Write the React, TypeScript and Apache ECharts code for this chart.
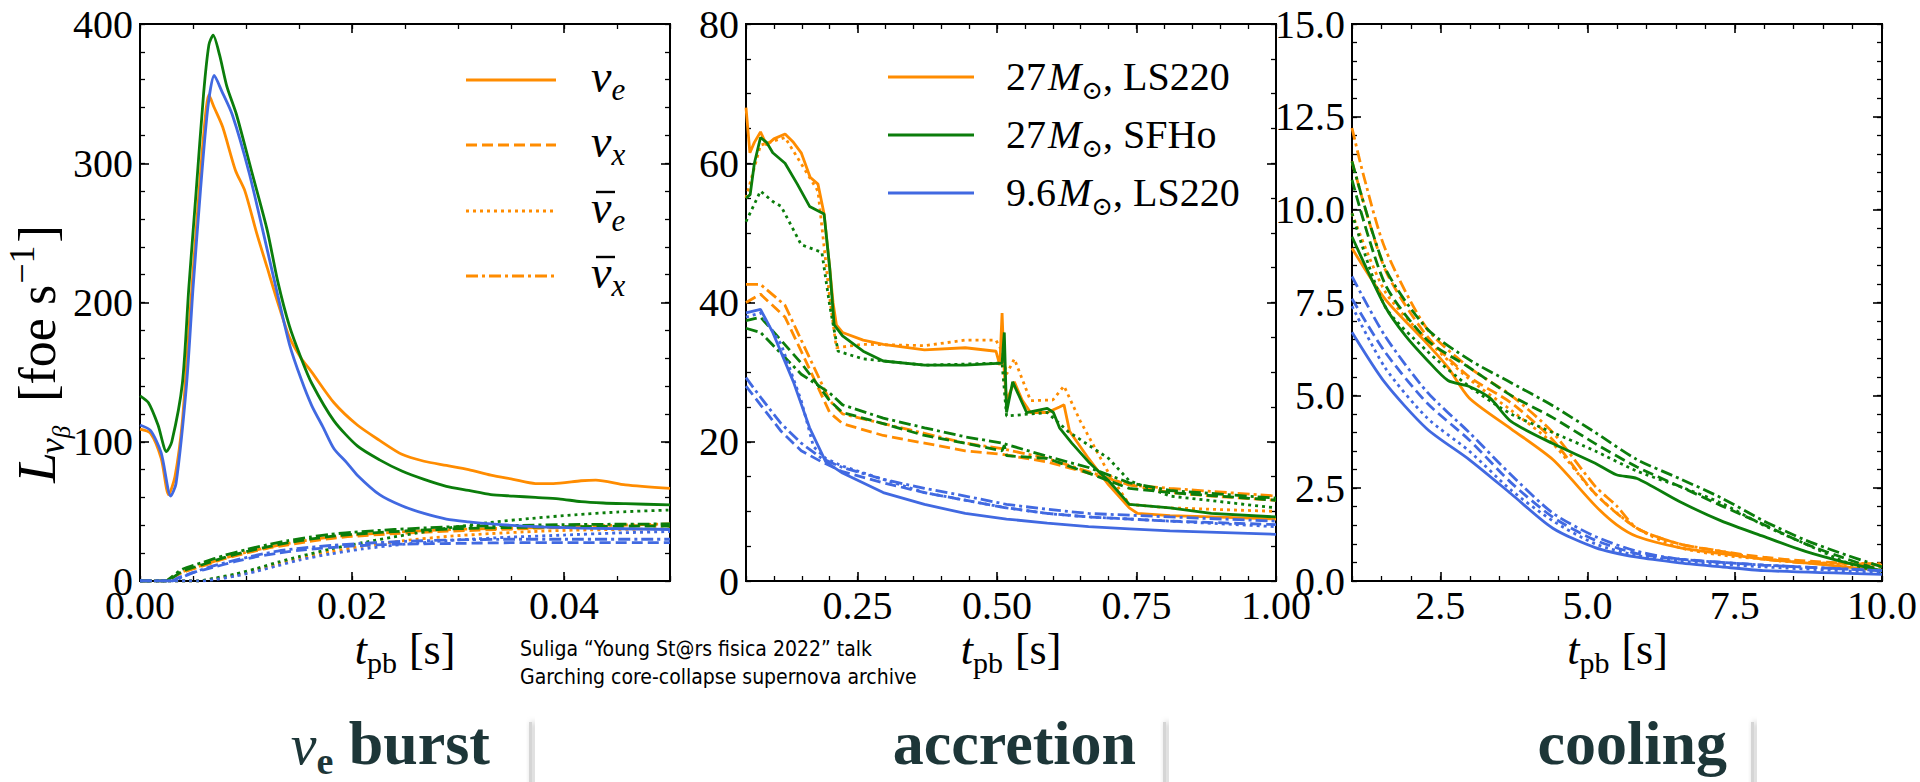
import React, { useEffect, useRef } from 'react';
import * as echarts from 'echarts';

// ---------- tick labels ----------
const burstXTicks = [0, 0.02, 0.04];
const burstYTicks = [0, 100, 200, 300, 400];
const accXTicks = [0.25, 0.5, 0.75, 1.0];
const accYTicks = [0, 20, 40, 60, 80];
const coolXTicks = [2.5, 5.0, 7.5, 10.0];
const coolYTicks = [0, 2.5, 5, 7.5, 10, 12.5, 15];

// ---------- legend entries ----------
const flavourSubs = ['e', 'x', 'e', 'x'];
const flavourBarred = [false, false, true, true];
const modelMasses = ['27', '27', '9.6'];
const modelEos = [', LS220', ', SFHo', ', LS220'];

// ---------- burst phase: t_pb [s], L [foe/s] ----------
const burstLs27Nue = [[0,109],[0.001,106],[0.002,88],[0.0027,62],[0.0033,75],[0.004,115],[0.0047,190],[0.0053,252],[0.006,320],[0.0065,349],[0.007,340],[0.0078,326],[0.009,295],[0.0099,280],[0.011,250],[0.012,225],[0.013,200],[0.0141,175],[0.0152,160],[0.0162,150],[0.0183,128],[0.0205,112],[0.0226,101],[0.0247,91],[0.0268,86],[0.0289,83],[0.031,80],[0.0331,76],[0.0352,73],[0.0373,70],[0.039,70],[0.0416,72],[0.043,72.5],[0.0458,69],[0.05,66.5]];
const burstLs27Nux = [[0,0],[0.0024,0],[0.003,2],[0.004,6],[0.006,11],[0.008,16],[0.01,20],[0.012,23.5],[0.014,26],[0.016,28.5],[0.018,30.5],[0.02,32],[0.024,34],[0.028,35.5],[0.032,36.5],[0.036,37.5],[0.04,38.5],[0.045,39.5],[0.05,40]];
const burstLs27Anue = [[0,0],[0.0055,0],[0.007,1.5],[0.009,4],[0.011,8],[0.013,12],[0.015,16],[0.018,21],[0.021,25],[0.025,29],[0.029,32],[0.033,34],[0.037,35.5],[0.041,36.5],[0.05,37.5]];
const burstLs27Anux = [[0,0],[0.0024,0],[0.003,2.5],[0.004,6.5],[0.006,11.5],[0.008,16.5],[0.01,20.5],[0.012,24],[0.014,27],[0.016,29.5],[0.018,31.5],[0.02,33],[0.024,35],[0.028,36.5],[0.032,37.5],[0.036,38],[0.04,39],[0.045,40],[0.05,41]];

const burstSfho27Nue = [[0,133],[0.0008,128],[0.0017,112],[0.0025,93],[0.003,100],[0.004,142],[0.0046,210],[0.0053,280],[0.006,350],[0.0065,385],[0.0069,392],[0.0075,378],[0.0082,355],[0.0091,335],[0.0105,295],[0.012,252],[0.013,215],[0.0141,183],[0.0152,160],[0.0162,142],[0.0183,115],[0.0205,97],[0.0226,87],[0.0247,79],[0.0268,73],[0.0289,68],[0.031,65],[0.0331,62],[0.0352,61],[0.0373,60],[0.0395,59],[0.0416,57],[0.0437,56],[0.0458,55.5],[0.05,54.7]];
const burstSfho27Nux = [[0,0],[0.0024,0],[0.003,2],[0.004,7],[0.006,12],[0.008,17],[0.01,21],[0.012,24.5],[0.014,27.5],[0.016,30],[0.018,32],[0.02,33.5],[0.024,35.5],[0.028,37],[0.032,38],[0.036,38.5],[0.04,39],[0.05,39.5]];
const burstSfho27Anue = [[0,0],[0.0055,0],[0.007,2],[0.009,5],[0.011,9],[0.013,13.5],[0.015,17.5],[0.018,23],[0.021,27.5],[0.025,33],[0.029,38],[0.033,42],[0.037,45],[0.041,47.5],[0.045,49.5],[0.05,51]];
const burstSfho27Anux = [[0,0],[0.0024,0],[0.003,3],[0.004,8.5],[0.006,13.5],[0.008,18.5],[0.01,22.5],[0.012,26],[0.014,29],[0.016,31.5],[0.018,33.5],[0.02,35],[0.024,37],[0.028,38.5],[0.032,39.5],[0.036,40],[0.04,40.5],[0.05,41]];

const burstLs96Nue = [[0,112],[0.001,108],[0.002,92],[0.0029,61],[0.0034,70],[0.0044,142],[0.005,210],[0.0057,280],[0.0064,340],[0.007,363],[0.0077,352],[0.0087,335],[0.0103,293],[0.012,238],[0.013,205],[0.0141,170],[0.0152,145],[0.0162,126],[0.0173,110],[0.0183,95],[0.0195,85],[0.0205,76],[0.0226,62],[0.0247,54],[0.0268,48.5],[0.0289,44.5],[0.031,42.5],[0.0331,41],[0.0373,39],[0.0416,38],[0.05,37]];
const burstLs96Nux = [[0,0],[0.003,0],[0.0035,2],[0.005,6],[0.007,10],[0.009,14],[0.011,17.5],[0.013,20],[0.015,22],[0.018,24],[0.021,25.5],[0.025,26.5],[0.03,27],[0.035,27.5],[0.04,27.5],[0.05,27.5]];
const burstLs96Anue = [[0,0],[0.0055,0],[0.007,1],[0.009,3.5],[0.011,7],[0.013,11],[0.015,15],[0.018,19.5],[0.021,23],[0.025,26.5],[0.03,29.5],[0.035,31.5],[0.04,33],[0.045,34.5],[0.05,35.5]];
const burstLs96Anux = [[0,0],[0.003,0],[0.0035,1],[0.005,6],[0.007,11],[0.009,15],[0.011,18.5],[0.013,21.5],[0.015,23.5],[0.018,25.5],[0.021,27],[0.025,28.5],[0.03,29.5],[0.035,30],[0.04,30],[0.05,30]];

// ---------- accretion phase ----------
const accLs27Nue = [[0.05,68],[0.057,61.5],[0.065,63],[0.076,64.5],[0.087,62.6],[0.1,63.5],[0.12,64.2],[0.135,63],[0.149,61.5],[0.165,58],[0.179,57],[0.19,52.7],[0.2,45],[0.206,40],[0.212,36.8],[0.223,35.7],[0.26,34.6],[0.296,34],[0.37,33.2],[0.443,33.5],[0.498,33],[0.505,31],[0.509,38.5],[0.513,30],[0.517,25.9],[0.531,28.6],[0.545,26],[0.56,24.2],[0.59,24.2],[0.612,25],[0.62,25.3],[0.63,21.5],[0.664,17.6],[0.7,13.8],[0.737,10.5],[0.752,9.7],[0.81,9.4],[0.884,9.2],[1.0,8.9]];
const accLs27Nux = [[0.05,40],[0.076,41.2],[0.12,37.9],[0.149,33],[0.2,24.2],[0.223,22.6],[0.296,20.9],[0.37,19.8],[0.443,18.7],[0.509,18.2],[0.59,17.1],[0.664,15.5],[0.737,13.8],[0.81,12.7],[0.884,12.2],[1.0,11.6]];
const accLs27Anue = [[0.05,55],[0.076,62.6],[0.12,63.7],[0.179,56],[0.2,40.7],[0.212,33.5],[0.26,34],[0.37,33.8],[0.443,34.6],[0.498,34.6],[0.509,33],[0.517,29.7],[0.531,31.9],[0.56,25.9],[0.6,26],[0.62,28],[0.649,23],[0.7,15.5],[0.737,11],[0.81,10.5],[1.0,10]];
const accLs27Anux = [[0.05,42.6],[0.076,42.6],[0.12,39.6],[0.149,34.6],[0.2,25.9],[0.223,24],[0.296,22.6],[0.37,21.2],[0.443,19.8],[0.509,19],[0.59,17.6],[0.664,15.7],[0.737,13.8],[0.81,13.3],[1.0,12.2]];

const accSfho27Nue = [[0.05,55],[0.0575,55.5],[0.065,60],[0.076,63.7],[0.087,63],[0.098,61.5],[0.12,60],[0.142,57],[0.164,53.8],[0.19,52.7],[0.2,45],[0.208,36.8],[0.223,35.2],[0.26,33],[0.296,31.6],[0.37,31],[0.443,31],[0.509,31.3],[0.513,35.7],[0.517,24.2],[0.528,28.6],[0.553,24.2],[0.59,24.8],[0.601,24.2],[0.612,22],[0.634,19.8],[0.664,17.1],[0.7,14.4],[0.737,11],[0.81,10.5],[0.884,9.7],[1.0,9.2]];
const accSfho27Nux = [[0.05,37.4],[0.076,37.9],[0.149,31.3],[0.2,25.9],[0.223,24.2],[0.296,22.6],[0.37,20.9],[0.443,19.8],[0.509,18.7],[0.513,19.5],[0.517,18],[0.59,17.6],[0.664,15.5],[0.737,13.3],[0.81,12.7],[1.0,11.6]];
const accSfho27Anue = [[0.05,51.6],[0.076,56],[0.098,54.5],[0.113,53.8],[0.149,48.3],[0.186,47.2],[0.2,39.6],[0.215,33],[0.26,31.9],[0.37,31],[0.509,31.3],[0.517,23.7],[0.59,24.2],[0.627,21.5],[0.7,17.6],[0.737,14.4],[0.81,12.2],[1.0,10.5]];
const accSfho27Anux = [[0.05,36.3],[0.076,35.7],[0.149,29.7],[0.2,27],[0.223,25.3],[0.296,23.4],[0.37,22],[0.443,20.7],[0.509,19.8],[0.59,17.9],[0.664,16.3],[0.737,14.1],[0.81,13],[1.0,11.9]];

const accLs96Nue = [[0.05,38.5],[0.076,39],[0.098,35.7],[0.135,28.6],[0.164,22],[0.193,17.1],[0.223,15.5],[0.296,12.7],[0.37,11],[0.443,9.7],[0.517,8.9],[0.59,8.3],[0.664,7.8],[0.737,7.5],[0.81,7.2],[1.0,6.7]];
const accLs96Nux = [[0.05,28],[0.076,25.3],[0.113,21.5],[0.149,18.7],[0.186,17.1],[0.223,15.7],[0.296,14.1],[0.37,12.7],[0.443,11.6],[0.517,10.5],[0.59,9.7],[0.664,9.2],[0.81,8.6],[1.0,8.1]];
const accLs96Anue = [[0.05,37.9],[0.076,38.5],[0.113,34],[0.149,25.9],[0.171,19.3],[0.193,17.6],[0.223,16.5],[0.296,14.6],[0.37,12.7],[0.443,11.6],[0.517,10.5],[0.59,9.7],[0.664,9.2],[0.737,8.9],[0.81,8.6],[1.0,7.8]];
const accLs96Anux = [[0.05,29.2],[0.076,26.4],[0.113,22.6],[0.149,19.8],[0.186,17.6],[0.223,16.3],[0.296,14.6],[0.37,13.3],[0.443,12.2],[0.517,11],[0.59,10.3],[0.664,9.7],[0.81,9.2],[1.0,8.6]];

// ---------- cooling phase ----------
const coolLs27Nue = [[1,8.96],[1.56,7.6],[2.27,6.4],[2.63,5.75],[2.99,4.93],[3.7,4.1],[4.41,3.27],[5.13,2.03],[5.49,1.52],[5.84,1.2],[6.56,0.9],[7.27,0.74],[7.99,0.59],[8.7,0.49],[10,0.28]];
const coolLs27Nux = [[1,11.3],[1.56,8.4],[2.27,6.6],[2.99,5.5],[3.7,4.8],[4.41,3.8],[5.13,2.35],[5.84,1.42],[6.56,1.0],[7.27,0.8],[7.99,0.64],[8.7,0.54],[10,0.43]];
const coolLs27Anue = [[1,9.9],[1.56,7.8],[2.27,6.5],[2.99,5.44],[3.7,4.6],[4.41,3.7],[5.13,2.35],[5.84,1.42],[6.56,0.9],[7.27,0.7],[7.99,0.59],[10,0.38]];
const coolLs27Anux = [[1,12.2],[1.2,10.9],[1.56,8.96],[2.27,6.8],[2.99,5.75],[3.7,5.0],[4.41,4.0],[5.13,2.55],[5.49,2.03],[5.84,1.42],[6.56,1.0],[7.27,0.8],[7.99,0.59],[8.7,0.49],[10,0.47]];

const coolSfho27Nue = [[1,9.27],[1.56,7.4],[1.91,6.6],[2.27,5.96],[2.63,5.4],[2.99,5.24],[3.34,4.93],[3.7,4.3],[4.41,3.7],[5.13,3.17],[5.49,2.86],[5.84,2.76],[6.56,2.14],[7.27,1.62],[7.99,1.2],[8.7,0.8],[9.41,0.49],[10,0.28]];
const coolSfho27Nux = [[1,10.8],[1.56,8.0],[2.27,6.5],[2.99,5.75],[3.7,5.0],[4.41,4.4],[5.13,3.7],[5.84,3.07],[6.56,2.55],[7.27,2.03],[7.99,1.52],[8.7,1.0],[9.41,0.59],[10,0.28]];
const coolSfho27Anue = [[1,9.9],[1.56,7.4],[2.27,6.2],[2.99,5.24],[3.7,4.5],[4.41,4.0],[5.13,3.5],[5.84,2.96],[6.56,2.55],[7.27,2.1],[7.99,1.5],[8.7,1.0],[9.41,0.49],[10,0.23]];
const coolSfho27Anux = [[1,11.3],[1.56,8.44],[2.27,6.8],[2.99,5.96],[3.7,5.34],[4.41,4.72],[5.13,4.0],[5.84,3.27],[6.56,2.76],[7.27,2.24],[7.99,1.62],[8.7,1.1],[9.41,0.69],[10,0.38]];

const coolLs96Nue = [[1,6.7],[1.56,5.34],[2.27,4.1],[2.99,3.27],[3.7,2.35],[4.41,1.42],[5.13,0.9],[5.84,0.64],[6.56,0.49],[7.27,0.38],[7.99,0.28],[10,0.18]];
const coolLs96Nux = [[1,7.6],[1.56,6.17],[2.27,4.8],[2.99,3.8],[3.7,2.65],[4.41,1.72],[5.13,1.1],[5.84,0.74],[6.56,0.59],[7.99,0.43],[10,0.28]];
const coolLs96Anue = [[1,7.4],[1.56,5.75],[2.27,4.4],[2.99,3.5],[3.7,2.45],[4.41,1.62],[5.13,1.0],[5.84,0.69],[6.56,0.54],[7.99,0.38],[10,0.23]];
const coolLs96Anux = [[1,8.2],[1.56,6.6],[2.27,5.1],[2.99,4.0],[3.7,2.86],[4.41,1.83],[5.13,1.2],[5.84,0.8],[6.56,0.59],[7.99,0.43],[10,0.28]];

// series grouped [model][flavour]
const burstData = [
  [burstLs27Nue, burstLs27Nux, burstLs27Anue, burstLs27Anux],
  [burstSfho27Nue, burstSfho27Nux, burstSfho27Anue, burstSfho27Anux],
  [burstLs96Nue, burstLs96Nux, burstLs96Anue, burstLs96Anux],
];
const accData = [
  [accLs27Nue, accLs27Nux, accLs27Anue, accLs27Anux],
  [accSfho27Nue, accSfho27Nux, accSfho27Anue, accSfho27Anux],
  [accLs96Nue, accLs96Nux, accLs96Anue, accLs96Anux],
];
const coolData = [
  [coolLs27Nue, coolLs27Nux, coolLs27Anue, coolLs27Anux],
  [coolSfho27Nue, coolSfho27Nux, coolSfho27Anue, coolSfho27Anux],
  [coolLs96Nue, coolLs96Nux, coolLs96Anue, coolLs96Anux],
];

const MODEL_COLORS = ['#FF8C00', '#0B7D0B', '#4169E1'];
const FLAVOUR_DASH: any[] = ['solid', [11, 5], [3, 4], [12, 4, 3, 4]];
const SERIF = '"Liberation Serif", "DejaVu Serif", serif';

function steps(a: number, b: number, s: number) {
  const out: number[] = [];
  for (let v = a; v <= b + s * 1e-6; v += s) out.push(+v.toFixed(6));
  return out;
}

let measureCtx: CanvasRenderingContext2D | null = null;
function textWidth(t: string, size: number, style = 'normal', weight = 'normal', family = SERIF) {
  if (!measureCtx) measureCtx = document.createElement('canvas').getContext('2d');
  measureCtx!.font = `${style} ${weight} ${size}px ${family}`;
  return measureCtx!.measureText(t).width;
}

type Part = { t: string; size: number; style?: string; weight?: string; dy?: number; dx?: number; family?: string };
// lays out a run of text pieces on a common baseline (sub/superscripts via dy)
function mathRow(x0: number, baseline: number, parts: Part[], fill = '#000') {
  let x = x0;
  const children: any[] = [];
  for (const p of parts) {
    x += p.dx || 0;
    const family = p.family || SERIF;
    children.push({
      type: 'text',
      x,
      y: baseline + (p.dy || 0) - 0.34 * p.size,
      style: {
        text: p.t, fill, fontSize: p.size, fontFamily: family,
        fontStyle: p.style || 'normal', fontWeight: p.weight || 'normal',
        align: 'left', verticalAlign: 'middle',
      },
    });
    x += textWidth(p.t, p.size, p.style || 'normal', p.weight || 'normal', family);
  }
  return { children, width: x - x0 };
}
function rowWidth(parts: Part[]) {
  return parts.reduce((s, p) => s + (p.dx || 0) + textWidth(p.t, p.size, p.style || 'normal', p.weight || 'normal', p.family || SERIF), 0);
}

const panels = [
  { grid: { left: 140, top: 24, width: 530, height: 557 }, x: [0, 0.05], y: [0, 400], xMaj: burstXTicks, yMaj: burstYTicks, xMin: steps(0, 0.05, 0.005), yMin: steps(0, 400, 20), xFmt: (v: number) => v.toFixed(2), yFmt: (v: number) => String(Math.round(v)), data: burstData, smooth: 0.25 },
  { grid: { left: 746, top: 24, width: 530, height: 557 }, x: [0.05, 1.0], y: [0, 80], xMaj: accXTicks, yMaj: accYTicks, xMin: steps(0.05, 1.0, 0.05), yMin: steps(0, 80, 5), xFmt: (v: number) => v.toFixed(2), yFmt: (v: number) => String(Math.round(v)), data: accData, smooth: 0 },
  { grid: { left: 1352, top: 24, width: 531, height: 557 }, x: [1, 10], y: [0, 15], xMaj: coolXTicks, yMaj: coolYTicks, xMin: steps(1, 10, 0.5), yMin: steps(0, 15, 0.5), xFmt: (v: number) => v.toFixed(1), yFmt: (v: number) => v.toFixed(1), data: coolData, smooth: 0.25 },
];

function axisSet(kind: 'x' | 'y', gridIndex: number, min: number, max: number, majors: number[], minors: number[], fmt: (v: number) => string) {
  const base: any = {
    type: 'value', gridIndex, min, max,
    axisLine: { show: false, onZero: false },
    splitLine: { show: false },
  };
  const near = kind === 'x' ? 'bottom' : 'left';
  const far = kind === 'x' ? 'top' : 'right';
  const major = { show: true, inside: true, length: 9, lineStyle: { color: '#000', width: 1.6 }, customValues: majors };
  const minor = { show: true, inside: true, length: 5, lineStyle: { color: '#000', width: 1.3 }, customValues: minors };
  return [
    { ...base, position: near, axisTick: major, axisLabel: { show: true, customValues: majors, formatter: fmt, color: '#000', fontFamily: SERIF, fontSize: 40, margin: kind === 'x' ? 4 : 7 } },
    { ...base, position: near, axisTick: minor, axisLabel: { show: false } },
    { ...base, position: far, axisTick: major, axisLabel: { show: false } },
    { ...base, position: far, axisTick: minor, axisLabel: { show: false } },
  ];
}

function buildOption() {
  const xAxis: any[] = [];
  const yAxis: any[] = [];
  const series: any[] = [];
  panels.forEach((p, gi) => {
    xAxis.push(...axisSet('x', gi, p.x[0], p.x[1], p.xMaj, p.xMin, p.xFmt));
    yAxis.push(...axisSet('y', gi, p.y[0], p.y[1], p.yMaj, p.yMin, p.yFmt));
    p.data.forEach((flavours, mi) => {
      flavours.forEach((pts, fi) => {
        series.push({
          type: 'line', xAxisIndex: gi * 4, yAxisIndex: gi * 4,
          data: pts, showSymbol: false, smooth: p.smooth, clip: true,
          lineStyle: { color: MODEL_COLORS[mi], width: 2.8, type: FLAVOUR_DASH[fi], cap: 'butt' },
          z: 3,
        });
      });
    });
  });

  const graphics: any[] = [];

  // flavour legend (first panel)
  const flavourY = [80, 145, 211, 276];
  flavourY.forEach((y, i) => {
    graphics.push({ type: 'line', shape: { x1: 466, y1: y, x2: 556, y2: y }, style: { stroke: MODEL_COLORS[0], lineWidth: 2.8, lineDash: FLAVOUR_DASH[i] === 'solid' ? null : FLAVOUR_DASH[i] } });
    const base = y + 12;
    graphics.push(...mathRow(591, base, [
      { t: 'ν', size: 46, style: 'italic' },
      { t: flavourSubs[i], size: 31, style: 'italic', dy: 8 },
    ]).children);
    if (flavourBarred[i]) {
      graphics.push({ type: 'line', shape: { x1: 596, y1: base - 31, x2: 615, y2: base - 31 }, style: { stroke: '#000', lineWidth: 2.4 } });
    }
  });

  // model legend (second panel)
  const modelY = [77, 135, 193];
  modelY.forEach((y, i) => {
    graphics.push({ type: 'line', shape: { x1: 888, y1: y, x2: 974, y2: y }, style: { stroke: MODEL_COLORS[i], lineWidth: 2.8 } });
    graphics.push(...mathRow(1006, y + 13, [
      { t: modelMasses[i], size: 40 },
      { t: 'M', size: 40, style: 'italic', dx: 2 },
      { t: '⊙', size: 26, dy: 9, family: '"DejaVu Serif", serif' },
      { t: modelEos[i], size: 40 },
    ]).children);
  });

  // x axis titles
  const tParts: Part[] = [
    { t: 't', size: 44, style: 'italic' },
    { t: 'pb', size: 30, dy: 9 },
    { t: '[s]', size: 44, dx: 12 },
  ];
  const tw = rowWidth(tParts);
  panels.forEach((p) => {
    const cx = p.grid.left + p.grid.width / 2;
    graphics.push(...mathRow(cx - tw / 2, 664, tParts).children);
  });

  // y axis title, rotated to read bottom-up
  const lParts: Part[] = [
    { t: 'L', size: 55, style: 'italic' },
    { t: 'ν', size: 36, style: 'italic', dy: 9, dx: -2 },
    { t: 'β', size: 25, style: 'italic', dy: 15 },
    { t: '[foe s', size: 52, dx: 24 },
    { t: '−1', size: 36, dy: -21, dx: 1 },
    { t: ']', size: 52, dx: 3 },
  ];
  const lw = rowWidth(lParts);
  graphics.push({
    type: 'group', x: 55, y: 354 + lw / 2, rotation: Math.PI / 2,
    children: mathRow(0, 0, lParts).children,
  });

  // source note
  const noteFont = '"Liberation Sans Narrow", "DejaVu Sans Condensed", "Open Sans", sans-serif';
  graphics.push({ type: 'text', x: 520, y: 649, style: { text: 'Suliga “Young St@rs fisica 2022” talk', fill: '#000', fontSize: 21, fontFamily: noteFont, align: 'left', verticalAlign: 'middle' } });
  graphics.push({ type: 'text', x: 520, y: 677, style: { text: 'Garching core-collapse supernova archive', fill: '#000', fontSize: 21, fontFamily: noteFont, align: 'left', verticalAlign: 'middle' } });

  // phase captions with separator tabs
  const capColor = '#1d3638';
  const burstParts: Part[] = [
    { t: 'ν', size: 58, style: 'italic' },
    { t: 'e', size: 38, weight: 'bold', dy: 10 },
    { t: ' burst', size: 62, weight: 'bold' },
  ];
  const captions: { parts: Part[]; right: number; sep: number }[] = [
    { parts: burstParts, right: 490, sep: 529 },
    { parts: [{ t: 'accretion', size: 62, weight: 'bold' }], right: 1136, sep: 1163 },
    { parts: [{ t: 'cooling', size: 62, weight: 'bold' }], right: 1727, sep: 1751 },
  ];
  captions.forEach((c) => {
    const w = rowWidth(c.parts);
    graphics.push(...mathRow(c.right - w, 764, c.parts, capColor).children);
    graphics.push({
      type: 'rect', shape: { x: c.sep, y: 722, width: 3, height: 70 },
      style: { fill: '#d5d5d5', shadowBlur: 6, shadowColor: 'rgba(0,0,0,0.35)', shadowOffsetX: 3 },
    });
  });

  return {
    animation: false,
    backgroundColor: '#ffffff',
    grid: panels.map((p) => ({ ...p.grid, show: true, borderColor: '#000', borderWidth: 2, backgroundColor: 'transparent', containLabel: false })),
    xAxis,
    yAxis,
    series,
    graphic: { elements: graphics },
  };
}

export default function App() {
  const ref = useRef<HTMLDivElement>(null);
  useEffect(() => {
    if (!ref.current) return;
    const chart = echarts.init(ref.current, undefined, { renderer: 'svg' });
    chart.setOption(buildOption() as any);
    return () => chart.dispose();
  }, []);
  return <div ref={ref} style={{ position: 'absolute', left: 0, top: 0, width: 1920, height: 782 }} />;
}
